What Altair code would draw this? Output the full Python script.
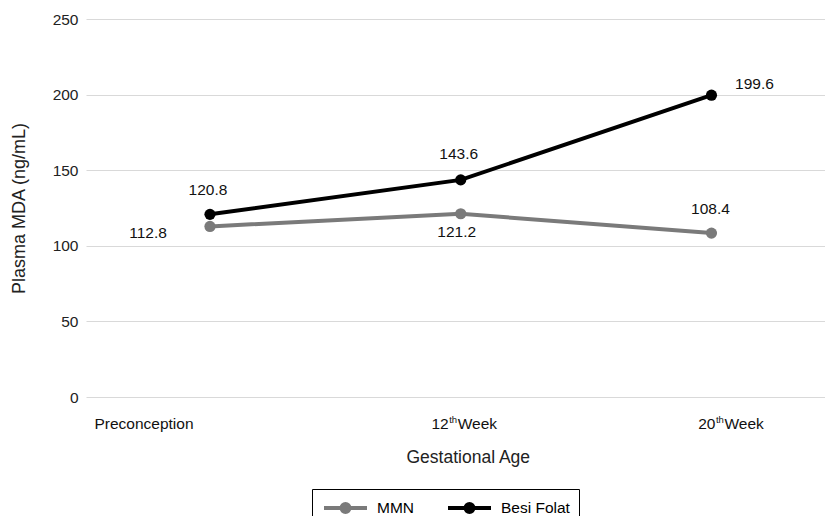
import altair as alt
import pandas as pd

# ---- data ----
categories = ["Preconception", "12th Week", "20th Week"]
series_names = ["MMN", "Besi Folat"]
mmn_values = [112.8, 121.2, 108.4]
besi_values = [120.8, 143.6, 199.6]
tick_main = ["Preconception", "12", "20"]
tick_sup = ["", "th", "th"]
tick_tail = ["", "Week", "Week"]
y_ticks = [0, 50, 100, 150, 200, 250]
series_colors = ["#7a7a7a", "#000000"]

# label placement (pixel offsets from each point)
label_dx = {"MMN": [-62, -4, -1], "Besi Folat": [-2, -2, 43]}
label_dy = {"MMN": [7, 18, -24], "Besi Folat": [-24, -26, -11]}

rows = []
for s, vals in zip(series_names, [mmn_values, besi_values]):
    for i, (c, v) in enumerate(zip(categories, vals)):
        rows.append({"cat": c, "series": s, "value": v, "label": f"{v:.1f}",
                     "idx": i})
df = pd.DataFrame(rows)

# tick label table (main text, superscript, tail)
tick_anchor_dx = [-66, -12, 4]
ticks = pd.DataFrame({"cat": categories, "main": tick_main, "sup": tick_sup,
                      "tail": tick_tail, "dx": tick_anchor_dx})

W, H = 739, 378
FONT = "Liberation Sans"
FS = 15.5

xscale = alt.Scale(type="point", domain=categories, padding=0.4736, align=0.522)
x_enc = alt.X("cat:N", scale=xscale, sort=categories,
              axis=alt.Axis(labels=False, ticks=False, domain=False, grid=False,
                            title="Gestational Age", titleFontSize=17.5,
                            titleFont=FONT, titleFontWeight="normal",
                            titleColor="#222", titlePadding=51,
                            titleAlign="left", titleX=320))
y_enc = alt.Y("value:Q", scale=alt.Scale(domain=[0, 250], nice=False),
              axis=alt.Axis(values=y_ticks, title="Plasma MDA (ng/mL)",
                            titleFontSize=18, titleFont=FONT,
                            titleFontWeight="normal", titleColor="#222",
                            titlePadding=24, labelFontSize=FS, labelFont=FONT,
                            labelColor="#222", labelPadding=8, ticks=False,
                            domain=False, grid=True, gridColor="#d9d9d9",
                            gridWidth=1))

# legend glyph: line with a filled dot
legend_path = ("M-0.875,0H4.5"
               "M2.3125,0A0.5,0.5,0,1,1,1.3125,0A0.5,0.5,0,1,1,2.3125,0Z"
               "M2.0125,0A0.2,0.2,0,1,1,1.6125,0A0.2,0.2,0,1,1,2.0125,0Z")
color_scale = alt.Scale(domain=series_names, range=series_colors)

lines = alt.Chart(df).mark_line(strokeWidth=4).encode(
    x=x_enc, y=y_enc,
    stroke=alt.Stroke("series:N", scale=color_scale, sort=series_names,
                      legend=alt.Legend(orient="none", legendX=226, legendY=470,
                                        direction="horizontal", title=None,
                                        strokeColor="#000", fillColor="#fff",
                                        padding=9, symbolType=legend_path,
                                        symbolSize=256, symbolStrokeWidth=4,
                                        labelFontSize=FS, labelFont=FONT,
                                        labelColor="#000", labelOffset=36,
                                        columnPadding=25, cornerRadius=0,
                                        labelExpr="datum.label == 'Besi Folat' ? datum.label + '    ' : datum.label")),
    detail="series:N",
)

points = alt.Chart(df).mark_circle(size=125, opacity=1).encode(
    x=alt.X("cat:N", scale=xscale, sort=categories),
    y=alt.Y("value:Q"),
    color=alt.Color("series:N", scale=color_scale, legend=None),
)

label_layers = []
for s in series_names:
    for i in range(len(categories)):
        label_layers.append(
            alt.Chart(df).transform_filter(
                f"datum.series == '{s}' && datum.idx == {i}"
            ).mark_text(fontSize=FS, font=FONT, color="#111",
                        dx=label_dx[s][i], dy=label_dy[s][i]).encode(
                x=alt.X("cat:N", scale=xscale, sort=categories),
                y=alt.Y("value:Q"),
                text="label:N",
            )
        )

tick_y = alt.value(H + 32)
tick_center = alt.Chart(ticks).transform_filter("datum.sup == ''").mark_text(
    fontSize=FS, font=FONT, color="#111", baseline="alphabetic", align="center"
).encode(
    x=alt.X("cat:N", scale=xscale, sort=categories), y=tick_y,
    xOffset=alt.XOffset("dx:Q", scale=None), text="main:N")
tick_right = alt.Chart(ticks).transform_filter("datum.sup != ''").mark_text(
    fontSize=FS, font=FONT, color="#111", baseline="alphabetic", align="right"
).encode(
    x=alt.X("cat:N", scale=xscale, sort=categories), y=tick_y,
    xOffset=alt.XOffset("dx:Q", scale=None), text="main:N")
tick_sup_layer = alt.Chart(ticks).transform_filter("datum.sup != ''").mark_text(
    fontSize=9.5, font=FONT, color="#111", baseline="alphabetic", align="left",
    dx=0.5, dy=-6
).encode(
    x=alt.X("cat:N", scale=xscale, sort=categories), y=tick_y,
    xOffset=alt.XOffset("dx:Q", scale=None), text="sup:N")
tick_tail_layer = alt.Chart(ticks).transform_filter("datum.sup != ''").mark_text(
    fontSize=FS, font=FONT, color="#111", baseline="alphabetic", align="left", dx=9
).encode(
    x=alt.X("cat:N", scale=xscale, sort=categories), y=tick_y,
    xOffset=alt.XOffset("dx:Q", scale=None), text="tail:N")

chart = alt.layer(lines, points, *label_layers, tick_center, tick_right,
                  tick_sup_layer, tick_tail_layer).properties(
    width=W, height=H,
    autosize=alt.AutoSizeParams(type="none"),
    padding={"left": 86, "top": 19, "right": 0, "bottom": 119},
).configure(font=FONT, background="white").configure_view(stroke=None)

chart.save("out.html", embed_options={"renderer": "svg", "actions": False})
